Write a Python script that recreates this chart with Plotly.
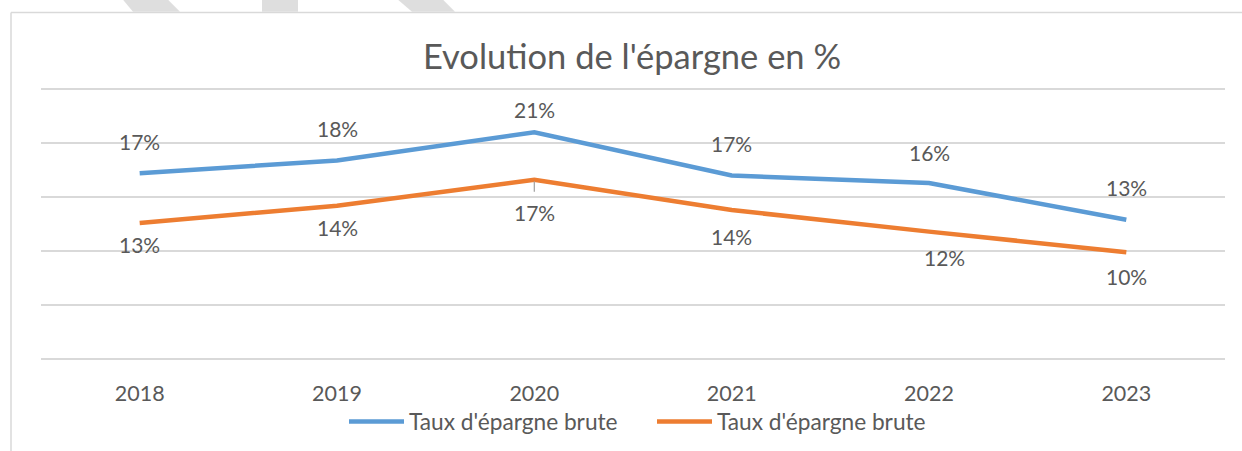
import plotly.graph_objects as go

years = ["2018", "2019", "2020", "2021", "2022", "2023"]
taux_brute_1 = [17.2, 18.4, 21.0, 17.0, 16.3, 12.9]
taux_brute_2 = [12.6, 14.2, 16.6, 13.8, 11.8, 9.9]
series_names = ["Taux d'épargne brute", "Taux d'épargne brute"]
title_text = "Evolution de l'épargne en %"

# label offsets (pixels) – styling only
shift_1 = [32, 32, 23, 32, 31, 32]
shift_2 = [-21, -22, -33, -26, -26, -24]
xshift_2 = [0, 0, 0, 0, 15, 0]

BLUE = "#5B9BD5"
ORANGE = "#ED7D31"
COLORS = [BLUE, ORANGE]
GREY = "#595959"
GRID = "#D9D9D9"
FONT = "Lato, Carlito, 'Liberation Sans', sans-serif"

W, H = 1242, 451
L, R, B = 41, 17, 92.3
YMAX = 25.2
PX_PER_UNIT = (358.7 - 89.3) / 25
T = 358.7 - YMAX * PX_PER_UNIT
PH = H - T - B
PW = W - L - R

fig = go.Figure()
for vals, name, col in zip([taux_brute_1, taux_brute_2], series_names, COLORS):
    fig.add_trace(go.Scatter(x=years, y=vals, mode="lines", name=name,
                             line=dict(color=col, width=4.5), showlegend=False))

annotations = []
for i, (v, s) in enumerate(zip(taux_brute_1, shift_1)):
    annotations.append(dict(x=i, y=v, xref="x", yref="y", text=f"{round(v):d}%",
                            showarrow=False, yshift=s,
                            font=dict(family=FONT, size=21, color=GREY)))
for i, (v, s, xs) in enumerate(zip(taux_brute_2, shift_2, xshift_2)):
    annotations.append(dict(x=i, y=v, xref="x", yref="y", text=f"{round(v):d}%",
                            showarrow=False, yshift=s, xshift=xs,
                            font=dict(family=FONT, size=21, color=GREY)))


def px_x(px):
    return (px - L) / PW


def px_y(py):
    return 1 + (T - py) / PH


shapes = [
    # chart border (top and left)
    dict(type="line", xref="paper", yref="paper", x0=px_x(11), x1=px_x(1260),
         y0=px_y(12.7), y1=px_y(12.7), line=dict(color=GRID, width=1.5)),
    dict(type="line", xref="paper", yref="paper", x0=px_x(11), x1=px_x(11),
         y0=px_y(470), y1=px_y(12.7), line=dict(color=GRID, width=1.5)),
    # leader line for 2020 lower label
    dict(type="line", xref="x", yref="y", x0=2, x1=2,
         y0=taux_brute_2[2] - 0.15, y1=taux_brute_2[2] - 1.1,
         line=dict(color="#A6A6A6", width=1.3)),
]


def px_path(pts):
    out = []
    for k, (px, py) in enumerate(pts):
        out.append(("M" if k == 0 else "L") + f"{px_x(px)},{px_y(py)}")
    return " ".join(out) + " Z"


# decorative hatched tabs above the chart frame
for pts in [[(123, 0), (168, 0), (180, 12), (133, 12)],
            [(262, 0), (298, 0), (298, 12), (262, 12)],
            [(398, 0), (443, 0), (455, 12), (412, 12)]]:
    shapes.append(dict(type="path", xref="paper", yref="paper", path=px_path(pts),
                       fillcolor="#DEDEDE", line=dict(width=0)))

# legend (Excel-style long line keys)
LEG_Y = 421
for name, col, x0 in zip(series_names, COLORS, [349, 657]):
    shapes.append(dict(type="line", xref="paper", yref="paper",
                       x0=px_x(x0), x1=px_x(x0 + 55), y0=px_y(LEG_Y), y1=px_y(LEG_Y),
                       line=dict(color=col, width=4.5)))
    annotations.append(dict(x=px_x(x0 + 58), y=px_y(LEG_Y), xref="paper", yref="paper",
                            xanchor="left", yanchor="middle", text=name, showarrow=False,
                            font=dict(family=FONT, size=22.7, color=GREY)))

fig.update_layout(
    width=W, height=H,
    margin=dict(l=L, r=R, t=T, b=B),
    paper_bgcolor="white", plot_bgcolor="white",
    font=dict(family=FONT, color=GREY),
    title=dict(text=title_text, x=632/W, xanchor="center", y=1 - 57/H,
               yanchor="middle", yref="container",
               font=dict(family=FONT, size=34.5, color=GREY)),
    showlegend=False,
    annotations=annotations,
    shapes=shapes,
)
fig.update_xaxes(type="category", range=[-0.5, 5.5], showgrid=False,
                 showline=False, ticks="", ticklabelstandoff=19,
                 tickfont=dict(family=FONT, size=21.5, color=GREY), fixedrange=True)
fig.update_yaxes(range=[0, YMAX], tickvals=[0, 5, 10, 15, 20, 25], showgrid=True,
                 gridcolor=GRID, gridwidth=1.5,
                 zeroline=True, zerolinecolor=GRID, zerolinewidth=1.5,
                 showticklabels=False, ticks="", fixedrange=True)

fig.write_html("out.html", config={"displayModeBar": False},
               post_script="document.body.style.margin='0px';")
